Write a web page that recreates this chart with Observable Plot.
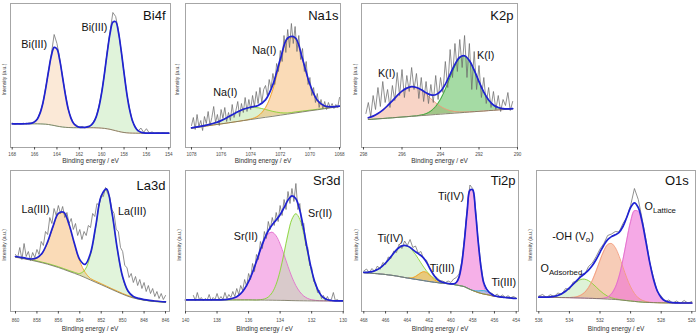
<!DOCTYPE html>
<html>
<head>
<meta charset="utf-8">
<script src="https://cdn.jsdelivr.net/npm/d3@7"></script>
<script src="https://cdn.jsdelivr.net/npm/@observablehq/plot@0.6"></script>
<style>
  html, body { margin: 0; padding: 0; background: #fff; }
  #figure { position: relative; width: 696px; height: 334px; overflow: hidden; background: #fff; }
  #figure > svg { position: absolute; }
</style>
</head>
<body>
<div id="figure"></div>
<script>
// ---------- Bi 4f : fit grid 168 -> 154 eV, 0.25 eV steps ----------
const bi4fTicks = [168, 166, 164, 162, 160, 158, 156, 154];
const bi4fStart = 168, bi4fStep = 0.25;
const bi4fBackground = [23.7,23.7,23.7,23.7,23.7,23.7,23.7,23.7,23.7,23.7,23.6,23.5,23.3,23.0,22.5,22.0,21.4,20.9,20.5,20.2,20.0,19.9,19.8,19.8,19.8,19.8,19.8,19.8,19.8,19.8,19.7,19.6,19.4,19.1,18.7,18.2,17.5,16.8,16.1,15.5,15.0,14.7,14.5,14.4,14.35,14.3,14.3,14.3,14.3,14.3,14.3,14.3,14.3,14.3,14.3,14.3,14.3];
const bi4fFiveHalf = [0,0,0,0,0,0.1,0.2,0.7,1.9,4.9,11,21.3,36.1,53.5,69.2,78.1,77.1,66.4,50,32.9,18.9,9.5,4.1,1.6,0.5,0.2,0,0,0,0,0,0,0,0,0,0,0,0,0,0,0,0,0,0,0,0,0,0,0,0,0,0,0,0,0,0,0];
const bi4fSevenHalf = [0,0,0,0,0,0,0,0,0,0,0,0,0,0,0,0,0,0,0,0,0,0,0,0,0,0.1,0.3,0.8,2.1,5,10.7,20.6,35.4,55,76.6,95.9,107.9,109.1,99.1,80.8,59.3,39,23.1,12.3,5.9,2.5,1,0.3,0.1,0,0,0,0,0,0,0,0];
const bi4fCounts = [24.5,23.2,24.1,23.5,24.3,23.4,24.6,24.0,26.2,28.0,35.4,44.1,60.3,76.0,93.5,113,104,89,70,54,38.2,30.1,23.3,22.4,20.0,21.2,19.6,21.3,21.5,25.6,30.0,41.0,55.5,73.5,96.5,116,135,131,117,95.5,75.0,53.0,38.5,26.0,21.0,16.2,19.5,15.2,18.8,14.6,15.6,14.2,15.0,14.5,14.9,14.3,14.6];
const bi4fLabels = ["Bi(III)", "Bi(III)"];

// ---------- Na 1s : fit grid 1078 -> 1068 eV, 0.5 eV steps; counts 0.125 eV ----------
const na1sTicks = [1078, 1076, 1074, 1072, 1070, 1068];
const na1sStart = 1078, na1sStep = 0.5;
const na1sBackground = [19.3,20.4,21.5,22.6,23.6,24.7,25.8,26.9,28.0,29.1,30.2,31.2,32.3,33.4,34.5,35.6,36.7,37.7,38.8,39.9,41.0];
const na1sMain = [0,0,0,0,0,0,0,0.1,0.4,2.4,9.6,26.8,53.4,75.0,74.4,52.2,25.9,9.1,2.3,0.4,0.1];
const na1sMinor = [0.3,0.5,0.9,1.6,3.3,6.0,9.0,11.3,12.0,10.6,7.8,4.9,2.5,1.1,1.0,0.8,0.6,0.5,0.4,0.3,0.3];
const na1sCountStart = 1078, na1sCountStep = 0.125;
const na1sCounts = [22,30,18,33,21,27,17,31,24,36,22,30,41,25,33,22,38,29,40,26,35,27,43,30,37,46,31,44,35,50,36,48,38,52,41,56,44,60,45,58,62,52,68,59,74,63,84,76,97,86,112,95,118,100,124,104,121,96,112,88,99,76,86,63,70,52,60,45,54,40,48,39,46,38,45,40,44,39,43,40,50];
const na1sLabels = ["Na(I)", "Na(I)"];

// ---------- K 2p : fit grid 297.75 -> 290.25 eV, 0.25 eV steps; counts 0.125 eV ----------
const k2pTicks = [298, 296, 294, 292, 290];
const k2pStart = 297.75, k2pStep = 0.25;
const k2pBackground = [28.0,28.3,28.7,29.0,29.4,29.7,30.1,30.5,30.8,31.2,31.5,31.9,32.2,32.6,33.0,33.3,33.7,34.0,34.4,34.7,35.1,35.5,35.8,36.2,36.5,36.9,37.2,37.6,37.9,38.3,38.7];
const k2pHalf = [1.7,3.1,5.3,8.4,12.4,17.0,21.7,25.9,28.6,29.5,28.3,25.3,21.0,16.2,11.7,7.9,4.9,2.9,1.5,0.8,0.4,0.2,0.1,0,0,0,0,0,0,0,0];
const k2pThreeHalf = [0,0,0,0,0,0,0,0,0,0.1,0.2,0.6,1.6,3.8,8.0,14.9,24.6,36.3,47.3,54.8,56.2,51.2,41.4,29.7,18.8,10.6,5.3,2.4,0.9,0.3,0.1];
const k2pCountStart = 297.875, k2pCountStep = 0.125;
const k2pCounts = [34,45,31,52,38,60,41,66,45,58,40,62,47,75,52,78,50,72,56,80,58,74,49,70,46,66,44,63,45,72,48,70,55,86,60,98,70,104,76,108,80,112,70,104,58,96,58,82,50,70,44,60,40,56,38,52,36,48,42,55,37,46];
const k2pLabels = ["K(I)", "K(I)"];

// ---------- La 3d : fit grid 860 -> 846 eV, 0.5 eV steps; counts 0.2 eV ----------
const la3dTicks = [860, 858, 856, 854, 852, 850, 848, 846];
const la3dStart = 860, la3dStep = 0.5;
const la3dBackground = [52.3,51.3,50.3,49.2,48.0,46.7,45.3,43.7,42.0,40.1,38.1,36.2,34.2,31.9,29.5,27.1,24.8,22.4,20.0,17.6,15.3,13.2,11.5,10.3,9.3,8.6,8.0,7.6,7.3];
const la3dSatellite = [0.3,0.3,0.4,0.8,3.1,9.3,21.6,38.7,53.3,56.4,46.0,28.8,13.9,5.2,1.5,1.2,1.0,0.9,0.8,0.8,0.7,0.7,0.6,0.6,0.5,0.5,0.5,0.4,0.4];
const la3dMain = [0.4,0.5,0.5,0.5,0.6,0.6,0.7,0.7,0.8,0.8,0.9,1.0,1.8,8.0,25.2,55.9,87.7,97.3,76.4,42.4,16.7,4.6,0.9,0.2,0.1,0,0,0,0];
const la3dCountStart = 860, la3dCountStep = 0.2;
const la3dCounts = [55,52,62,50,66,53,58,49,57,52,60,55,68,64,78,75,92,86,101,94,104,96,103,92,97,86,91,80,86,74,80,70,78,74,84,82,96,93,106,104,114,113,122,116,112,100,96,80,78,62,58,44,42,32,36,27,33,24,30,21,27,18,24,16,21,13,18,11,16,10,14];
const la3dLabels = ["La(III)", "La(III)"];

// ---------- Sr 3d : fit grid 140 -> 130 eV, 0.25 eV steps; counts 0.125 eV ----------
const sr3dTicks = [140, 138, 136, 134, 132, 130];
const sr3dStart = 140, sr3dStep = 0.25;
const sr3dBackground = [9.6,9.6,9.6,9.6,9.6,9.6,9.6,9.6,9.6,9.6,9.6,9.6,9.6,9.6,9.6,9.6,9.6,9.55,9.5,9.45,9.4,9.35,9.3,9.25,9.2,9.1,9.0,8.9,8.8,8.75,8.7,8.65,8.6,8.6,8.6,8.6,8.6,8.6,8.6,8.6,8.6];
const sr3dThreeHalf = [0,0,0,0,0,0,0,0,0,0.1,0.3,0.7,1.6,3.2,6.2,11.1,18.2,27.5,38.6,50.0,59.9,66.3,67.9,64.3,56.2,45.5,34.0,23.5,15.0,8.9,4.8,2.4,1.1,0.5,0.2,0.1,0,0,0,0,0];
const sr3dFiveHalf = [0,0,0,0,0,0,0,0,0,0,0,0,0,0,0,0,0,0,0,0.4,1.1,3.1,7.6,16.0,29.4,47.3,66.4,81.3,87,81.3,66.4,47.3,29.4,16.0,7.6,3.1,1.1,0.4,0.1,0,0];
const sr3dCountStart = 139.5, sr3dCountStep = 0.125;
const sr3dCounts = [14,9,17,10,12,9,11,9.5,15,9,12,10,16,10,13,10,17,11,15,12,18,13,21,15,24,19,30,23,36,30,46,38,55,50,68,61,78,71,88,80,92,84,97,88,104,94,110,100,118,106,121,108,126,100,106,84,86,64,62,44,42,28,27,17,19,11,14,9,13,8.5,10,17,9,10,8.5];
const sr3dLabels = ["Sr(II)", "Sr(II)"];

// ---------- Ti 2p : fit grid 468 -> 454 eV, 0.25 eV steps ----------
const ti2pTicks = [468, 466, 464, 462, 460, 458, 456, 454];
const ti2pStart = 468, ti2pStep = 0.25;
const ti2pBackground = [36.8,36.6,36.4,36.2,36.0,35.8,35.5,35.3,35.0,34.6,34.3,33.9,33.5,33.0,32.5,32.0,31.5,31.1,30.6,30.2,29.8,29.3,28.9,28.4,28.0,27.6,27.2,26.9,26.5,26.2,26.0,25.7,25.4,25.0,24.5,24.0,23.5,22.8,21.5,20.2,19.0,18.0,17.0,16.2,15.5,15.0,14.5,13.8,13.2,12.9,12.6,12.3,12.0,11.8,11.5,11.2,11.0];
const ti2pIVHalf = [0.4,0.6,1.1,1.7,2.7,4.1,6.1,8.5,11.5,14.9,18.7,22.5,26.1,29.0,31.1,32.1,31.9,30.5,28.0,24.8,21.1,17.3,13.6,10.3,7.5,5.3,3.6,2.3,1.4,0.9,0.5,0.3,0.2,0.1,0,0,0,0,0,0,0,0,0,0,0,0,0,0,0,0,0,0,0,0,0,0,0];
const ti2pIIIHalf = [0,0,0,0,0,0,0,0,0,0,0,0,0,0,0,0,0.1,0.5,1.2,2.8,5.0,7.4,8.9,8.7,6.9,4.5,2.4,1.0,0.4,0.1,0,0,0,0,0,0,0,0,0,0,0,0,0,0,0,0,0,0,0,0,0,0,0,0,0,0,0];
const ti2pIVThreeHalf = [0,0,0,0,0,0,0,0,0,0,0,0,0,0,0,0,0,0,0,0,0,0,0,0,0,0,0,0,0,0,0,0,0.1,0.6,2.5,8.4,22.4,46.8,76.8,99.2,100.6,80.3,50.3,24.8,8.5,2.5,0.6,0.1,0,0,0,0,0,0,0,0,0];
const ti2pIIIThreeHalf = [0,0,0,0,0,0,0,0,0,0,0,0,0,0,0,0,0,0,0,0,0,0,0,0,0,0,0,0,0,0,0,0,0,0,0,0,0,0,0,0,0.2,0.7,1.5,2.7,3.4,3.3,2.4,1.3,0.5,0.2,0,0,0,0,0,0,0];
const ti2pCounts = [38.5,40.5,36.8,41.0,38.0,43.5,40.2,47.0,45.0,52.5,51.0,58.5,57.0,65.5,61.0,68.5,64.0,70.0,62.0,63.5,56.5,58.0,50.5,49.5,43.0,38.5,34.0,31.5,29.0,28.4,27.0,28.5,27.0,30.5,32.0,35.5,48.0,72.0,101.0,124.5,121.0,103.0,70.0,45.0,27.0,21.5,17.0,16.5,13.5,15.5,12.8,14.5,12.0,13.8,11.8,13.0,11.5];
const ti2pLabels = ["Ti(IV)", "Ti(IV)", "Ti(III)", "Ti(III)"];

// ---------- O 1s : fit grid 536 -> 526 eV, 0.25 eV steps ----------
const o1sTicks = [536, 534, 532, 530, 528, 526];
const o1sStart = 536, o1sStep = 0.25;
const o1sBackground = [12.3,12.25,12.2,12.15,12.1,12.0,11.95,11.9,11.8,11.7,11.6,11.5,11.4,11.25,11.1,10.95,10.8,10.6,10.4,10.2,10.0,9.7,9.3,8.9,8.5,8.1,7.7,7.4,7.2,7.0,6.9,6.8,6.7,6.65,6.6,6.6,6.55,6.5,6.5,6.5,6.5];
const o1sAdsorbed = [0,0.1,0.2,0.5,1.1,2.1,3.9,6.4,9.6,13.2,16.4,18.5,18.9,17.6,14.9,11.5,8.0,5.1,2.9,1.5,0.7,0.3,0.1,0,0,0,0,0,0,0,0,0,0,0,0,0,0,0,0,0,0];
const o1sHydroxyl = [0,0,0,0,0,0,0,0,0.2,0.5,1.2,2.8,5.7,10.6,18.0,27.6,38.2,47.9,54.4,55.8,51.9,43.6,33.1,22.7,14.2,8.0,4.0,1.9,0.8,0.3,0.1,0,0,0,0,0,0,0,0,0,0];
const o1sLattice = [0,0,0,0,0,0,0,0,0,0,0,0,0,0,0,0,0.2,0.7,2.1,5.4,12.1,23.6,40.5,60.7,79.3,90.6,90.3,78.7,59.8,39.8,23.1,11.7,5.2,2.0,0.7,0.2,0.1,0,0,0,0];
const o1sCounts = [13.5,15.0,12.0,14.8,13.0,16.5,15.2,21.0,20.0,27.5,28.0,35.5,35.0,43.0,46.5,53.0,60.5,66.0,74.0,75.5,78.0,77.5,86.0,92.0,104.0,121.0,110.0,91.0,70.5,47.0,32.0,17.5,13.5,8.0,9.5,6.5,8.5,6.2,9.0,6.4,8.0];
const o1sLabels = ["O_{Lattice}", "-OH (V_{o})", "O_{Adsorbed}"];

// ---------- drawing ----------
const FONT = '"Liberation Sans", Arial, Helvetica, sans-serif';
const ENVELOPE = "#1f22d2", RAW = "#6c6c6c", BASE = "#7b7862", FRAME = "#a6a6a6";
const ORANGE = {fill: "#f3b060", opacity: 0.45, stroke: "#f0a326"};
const PEACH = {fill: "#f6c79a", opacity: 0.4, stroke: "#f3cba4"};
const PALEGREEN = {fill: "#b5e3a6", opacity: 0.42, stroke: "#bde3b0"};
const LIME = {fill: "#b0e09a", opacity: 0.45, stroke: "#8cd437"};
const DEEPGREEN = {fill: "#4cb84a", opacity: 0.5, stroke: "#39a335"};
const SALMON = {fill: "#f0a080", opacity: 0.45, stroke: "#f39a7c"};
const PINK = {fill: "#ee6fd6", opacity: 0.5, stroke: "#e26ccc"};
const CYAN = {fill: "#5ccbe6", opacity: 0.45, stroke: "#33b5d6"};

const panels = [
  {title: "Bi4f", row: 0, frame: [10, 3, 170, 147], xDomain: [168, 154], inset: [1.7, 1.7], ticks: bi4fTicks,
   start: bi4fStart, step: bi4fStep, background: bi4fBackground,
   comps: [{values: bi4fFiveHalf, ...PEACH}, {values: bi4fSevenHalf, ...PALEGREEN}],
   countStart: bi4fStart, countStep: bi4fStep, counts: bi4fCounts,
   labels: bi4fLabels, labelAt: [[166.03, 102.5], [160.65, 119.5]], titleOffset: [-5, 7], yLabelDx: -6},
  {title: "Na1s", row: 0, frame: [185, 3, 340, 147], xDomain: [1078, 1068], inset: [6, 1], ticks: na1sTicks,
   start: na1sStart, step: na1sStep, background: na1sBackground,
   comps: [{values: na1sMinor, ...LIME}, {values: na1sMain, ...ORANGE}],
   countStart: na1sCountStart, countStep: na1sCountStep, counts: na1sCounts,
   labels: na1sLabels, labelAt: [[1073.08, 97], [1075.72, 54.7]], titleOffset: [-2, 7.7], yLabelDx: -8},
  {title: "K2p", row: 0, frame: [361, 3, 517, 147], xDomain: [298, 290], inset: [2, 0], ticks: k2pTicks,
   start: k2pStart, step: k2pStep, background: k2pBackground,
   comps: [{values: k2pHalf, ...SALMON}, {values: k2pThreeHalf, ...DEEPGREEN}],
   countStart: k2pCountStart, countStep: k2pCountStep, counts: k2pCounts,
   labels: k2pLabels, labelAt: [[291.65, 92], [296.8, 73.7]], titleOffset: [-4, 7], yLabelDx: -6},
  {title: "La3d", row: 1, frame: [10, 170, 169, 311], xDomain: [860, 846], inset: [5, 4], ticks: la3dTicks,
   start: la3dStart, step: la3dStep, background: la3dBackground,
   comps: [{values: la3dSatellite, ...ORANGE}, {values: la3dMain, ...LIME, fill: "#b5e3a6", opacity: 0.4}],
   countStart: la3dCountStart, countStep: la3dCountStep, counts: la3dCounts,
   labels: la3dLabels, labelAt: [[858.13, 100.2], [849.11, 98.2]], titleOffset: [-4, 10], yLabelDx: -6},
  {title: "Sr3d", row: 1, frame: [185, 170, 343, 311], xDomain: [140, 130], inset: [0, 0.3], ticks: sr3dTicks,
   start: sr3dStart, step: sr3dStep, background: sr3dBackground,
   comps: [{values: sr3dThreeHalf, ...PINK}, {values: sr3dFiveHalf, ...LIME, fill: "#b5e3a6", opacity: 0.45}],
   countStart: sr3dCountStart, countStep: sr3dCountStep, counts: sr3dCounts,
   labels: sr3dLabels, labelAt: [[131.47, 96.3], [136.18, 73.2]], titleOffset: [-3, 5], yLabelDx: -6},
  {title: "Ti2p", row: 1, frame: [361, 170, 518, 311], xDomain: [468, 454], inset: [2.3, 2.3], ticks: ti2pTicks,
   start: ti2pStart, step: ti2pStep, background: ti2pBackground,
   comps: [{values: ti2pIVHalf, ...LIME, fill: "#b5e3a6", opacity: 0.45}, {values: ti2pIIIHalf, ...ORANGE, fill: "#f0a830", opacity: 0.55},
           {values: ti2pIVThreeHalf, ...PINK, opacity: 0.55}, {values: ti2pIIIThreeHalf, ...CYAN}],
   countStart: ti2pStart, countStep: ti2pStep, counts: ti2pCounts,
   labels: ti2pLabels, labelAt: [[459.99, 112.7], [465.55, 71.2], [460.8, 41.2], [455.14, 26.5]], titleOffset: [-3, 5], yLabelDx: -5},
  {title: "O1s", row: 1, frame: [536, 170, 695, 311], xDomain: [536, 526], inset: [2.3, 3.7], ticks: o1sTicks,
   start: o1sStart, step: o1sStep, background: o1sBackground,
   comps: [{values: o1sAdsorbed, ...LIME, fill: "#b5e3a6", opacity: 0.45}, {values: o1sHydroxyl, ...SALMON, fill: "#f09a70", opacity: 0.5},
           {values: o1sLattice, ...PINK, opacity: 0.6}],
   countStart: o1sStart, countStep: o1sStep, counts: o1sCounts,
   labels: o1sLabels, labelAt: [[529.09, 103], [535.12, 73.2], [535.89, 41]], labelAnchor: "start", titleOffset: [-6.7, 5.7], yLabelDx: -6}
];

// Turn "X_{sub}" label markup into tspans with a lowered, smaller subscript.
function addSubscripts(svg) {
  svg.querySelectorAll("text").forEach(node => {
    const s = node.textContent;
    if (!s.includes("_{")) return;
    while (node.firstChild) node.removeChild(node.firstChild);
    s.split(/_\{([^}]*)\}/).forEach((part, i) => {
      if (!part) return;
      const ts = document.createElementNS("http://www.w3.org/2000/svg", "tspan");
      ts.textContent = part;
      if (i % 2 === 1) { ts.setAttribute("font-size", "7.8"); ts.setAttribute("dy", "2.6"); }
      else if (i > 0) ts.setAttribute("dy", "-2.6");
      node.appendChild(ts);
    });
  });
}

function drawPanel(p) {
  const [left, top, right, bottom] = p.frame;
  const ML = 12, MR = 2, MT = 2, MB = p.row === 0 ? 18 : 23;
  const width = right - left + ML + MR;
  const height = bottom - top + MT + MB;
  const yDomain = p.row === 0 ? [0, bottom - top] : [-2, bottom - top - 2];

  const fit = p.background.map((b, i) => {
    const row = {e: p.start - i * p.step, base: b, env: b};
    p.comps.forEach((c, k) => { row["c" + k] = b + c.values[i]; row.env += c.values[i]; });
    return row;
  });
  const counts = p.counts.map((v, i) => ({e: p.countStart - i * p.countStep, v}));
  const labels = p.labels.map((t, i) => ({t, e: p.labelAt[i][0], v: p.labelAt[i][1]}));
  const curve = "catmull-rom";

  const marks = [];
  p.comps.forEach((c, k) => marks.push(Plot.areaY(fit, {x: "e", y1: "base", y2: "c" + k, fill: c.fill, fillOpacity: c.opacity, curve})));
  p.comps.forEach((c, k) => marks.push(Plot.line(fit, {x: "e", y: "c" + k, stroke: c.stroke, strokeWidth: 0.9, curve})));
  marks.push(Plot.line(fit, {x: "e", y: "base", stroke: BASE, strokeWidth: 0.9}));
  marks.push(Plot.line(counts, {x: "e", y: "v", stroke: RAW, strokeWidth: 0.75}));
  marks.push(Plot.line(fit, {x: "e", y: "env", stroke: ENVELOPE, strokeWidth: 1.7, curve}));
  marks.push(Plot.frame({stroke: FRAME}));
  marks.push(Plot.axisX({ticks: p.ticks, tickFormat: d => String(d), tickSize: 2.5,
    tickPadding: p.row === 0 ? 2.9 : 4.9, fontSize: 4.6, color: "#4a4a4a", label: null}));
  marks.push(Plot.text(["Binding energy / eV"], {text: d => d, frameAnchor: "bottom", dy: p.row === 0 ? 13.7 : 17.5,
    lineAnchor: "middle", fontSize: 6.5, fill: "#333"}));
  marks.push(Plot.text(["Intensity (a.u.)"], {text: d => d, frameAnchor: "left", rotate: -90, dx: p.yLabelDx, dy: 4,
    textAnchor: "middle", lineAnchor: "middle", fontSize: 5, fill: "#444"}));
  marks.push(Plot.text([p.title], {text: d => d, frameAnchor: "top-right", dx: p.titleOffset[0], dy: p.titleOffset[1],
    textAnchor: "end", lineAnchor: "top", fontSize: 13, fill: "#111"}));
  marks.push(Plot.text(labels, {x: "e", y: "v", text: "t", textAnchor: p.labelAnchor || "middle",
    lineAnchor: "middle", fontSize: 10.8, fill: "#111"}));

  const svg = Plot.plot({
    width, height,
    marginLeft: ML, marginRight: MR, marginTop: MT, marginBottom: MB,
    style: {fontFamily: FONT, background: "transparent", overflow: "visible"},
    x: {domain: p.xDomain, insetLeft: p.inset[0], insetRight: p.inset[1]},
    y: {domain: yDomain, axis: null},
    marks
  });
  svg.style.left = (left - ML) + "px";
  svg.style.top = (top - MT) + "px";
  addSubscripts(svg);
  document.getElementById("figure").appendChild(svg);
}

panels.forEach(drawPanel);
</script>
</body>
</html>
